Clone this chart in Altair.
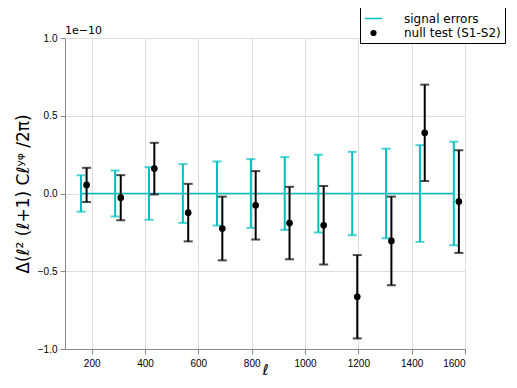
import altair as alt
import pandas as pd

# --- data (values in units of 1e-10) ---
series_names = ["signal errors", "null test (S1-S2)"]
series_colors = ["#00BFBF", "#000000"]

ell_signal = [160, 288, 415, 542, 670, 797, 924, 1050, 1177, 1304, 1431, 1558]
err_signal = [0.117, 0.148, 0.169, 0.189, 0.206, 0.221, 0.234, 0.250, 0.268, 0.288, 0.311, 0.333]

ell_null = [181, 309, 435, 562, 690, 815, 942, 1070, 1196, 1324, 1449, 1577]
val_null = [0.055, -0.027, 0.160, -0.123, -0.225, -0.076, -0.190, -0.204, -0.664, -0.305, 0.390, -0.052]
err_null = [0.110, 0.145, 0.166, 0.185, 0.205, 0.220, 0.233, 0.253, 0.268, 0.285, 0.310, 0.330]

x_ticks = [200, 400, 600, 800, 1000, 1200, 1400, 1600]
y_ticks = [-1.0, -0.5, 0.0, 0.5, 1.0]

sig = pd.DataFrame({
    "ell": ell_signal,
    "val": [0.0] * len(ell_signal),
    "lo": [-e for e in err_signal],
    "hi": err_signal,
    "series": series_names[0],
})
nul = pd.DataFrame({
    "ell": ell_null,
    "val": val_null,
    "lo": [v - e for v, e in zip(val_null, err_null)],
    "hi": [v + e for v, e in zip(val_null, err_null)],
    "series": series_names[1],
})

FONT = "DejaVu Sans"
xscale = alt.Scale(domain=[100, 1600], nice=False, zero=False)
yscale = alt.Scale(domain=[-1.0, 1.0], nice=False, zero=False)

X = alt.X("ell:Q", scale=xscale,
          axis=alt.Axis(values=x_ticks, format="d", title="ℓ", titleFontStyle="italic",
                        titleFontSize=15, titleFont=FONT, titleFontWeight="normal",
                        titleBaseline="alphabetic", titleY=25, labelPadding=4))
Y_AX = alt.Axis(values=y_ticks, format=".1f",
                title="Δ(ℓ² (ℓ+1) Cℓʸᵠ /2π)", titleFontSize=17,
                titleFont=FONT, titleFontWeight="normal", titlePadding=5,
                labelPadding=3)

base_s = alt.Chart(sig)
base_n = alt.Chart(nul)

cyan = series_colors[0]
black = series_colors[1]

sig_line = base_s.mark_line(color=cyan, strokeWidth=1.5).encode(
    x=X, y=alt.Y("val:Q", scale=yscale, axis=Y_AX))
sig_bar = base_s.mark_rule(color=cyan, strokeWidth=2).encode(
    x=alt.X("ell:Q"), y=alt.Y("lo:Q"), y2="hi:Q")
sig_cap = base_s.transform_fold(["lo", "hi"], as_=["end", "yv"]).mark_tick(
    color=cyan, orient="horizontal", size=9, thickness=2).encode(
    x=alt.X("ell:Q"), y=alt.Y("yv:Q"))

nul_bar = base_n.mark_rule(color=black, strokeWidth=2).encode(
    x=alt.X("ell:Q"), y=alt.Y("lo:Q"), y2="hi:Q")
nul_cap = base_n.transform_fold(["lo", "hi"], as_=["end", "yv"]).mark_tick(
    color=black, orient="horizontal", size=9, thickness=2).encode(
    x=alt.X("ell:Q"), y=alt.Y("yv:Q"))

leg = alt.Legend(title=None, orient="none", legendX=295, legendY=-33,
                 labelFont=FONT, labelFontSize=12, labelColor="black",
                 strokeColor="black", fillColor="white", padding=4,
                 cornerRadius=0, rowPadding=2, labelOffset=21,
                 symbolStrokeWidth=1.5)
nul_pts = base_n.mark_point(filled=True, opacity=1).encode(
    x=alt.X("ell:Q"), y=alt.Y("val:Q"),
    color=alt.Color("series:N", scale=alt.Scale(domain=series_names, range=series_colors), legend=leg),
    stroke=alt.Stroke("series:N", scale=alt.Scale(domain=series_names, range=series_colors), legend=leg),
    shape=alt.Shape("series:N", scale=alt.Scale(domain=series_names, range=["stroke", "circle"]), legend=leg),
    size=alt.Size("series:N", scale=alt.Scale(domain=series_names, range=[300, 22]), legend=leg),
)

chart = alt.layer(sig_line, sig_bar, sig_cap, nul_bar, nul_cap, nul_pts).properties(
    width=400, height=311,
    title=alt.TitleParams("1e−10", anchor="start", frame="group", fontSize=11, font=FONT,
                          fontWeight="normal", offset=3, dy=34, color="black"),
    autosize=alt.AutoSizeParams(type="none"),
    padding={"left": 57, "top": 30, "right": 44, "bottom": 31},
).configure_view(
    stroke="black", strokeWidth=1, strokeOpacity=1
).configure_axis(
    grid=True, gridColor="#000000", gridOpacity=0.75, gridDash=[1, 2], gridWidth=1,
    domainColor="black", domainWidth=1, ticks=False,
    labelFont=FONT, labelFontSize=10.5, labelColor="black", titleColor="black",
).configure(background="white")

chart.save("out.html", embed_options={"renderer": "svg", "actions": False})
